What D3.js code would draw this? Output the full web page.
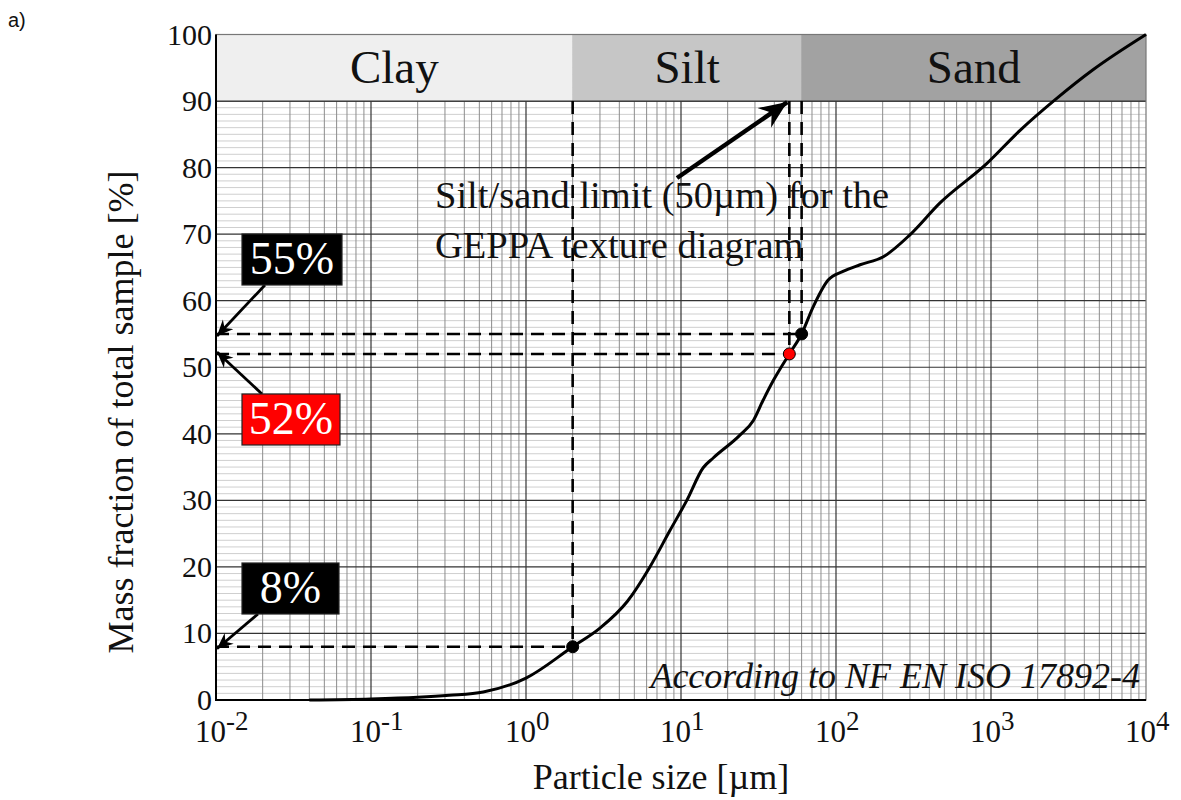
<!DOCTYPE html>
<html>
<head>
<meta charset="utf-8">
<script src="https://cdn.jsdelivr.net/npm/d3@7"></script>
<style>
  html, body { margin: 0; padding: 0; background: #fff; }
  svg { display: block; }
</style>
</head>
<body>
<svg id="chart" width="1181" height="800"></svg>
<script>
// Cumulative particle-size distribution (hydrometer + sieving)
const sizeUm  = [0.04, 0.1, 0.2, 0.32, 0.53, 1.0, 2.0, 3.0, 4.5, 6.3, 8.5, 10.9, 13.9, 16.2, 24, 29.3, 33.8, 39.4, 50, 60, 71, 89, 111, 143, 202, 300, 469, 938, 1540, 2655, 4550, 10000];
const massPct = [0, 0.15, 0.4, 0.7, 1.2, 3.3, 8, 10.8, 14.8, 20, 25.5, 30, 34.9, 36.4, 39.8, 42, 45, 48, 52, 55, 59, 63.1, 64.4, 65.4, 66.6, 69.9, 74.7, 80.6, 85.6, 90.4, 94.7, 100];

// Texture classes shown in the top band
const classNames = ["Clay", "Silt", "Sand"];
const classFrom  = [0.01, 2, 60];
const classTo    = [2, 60, 10000];
const classFill  = ["#efefef", "#c6c6c6", "#a2a2a2"];

// Marked points on the curve: size, percentage, label box colour
const markSize  = [2, 50, 60];
const markPct   = [8, 52, 55];
const markDot   = ["#000", "#ff0000", "#000"];
const labelText = ["8%", "52%", "55%"];
const labelFill = ["#000", "#ff0000", "#000"];

const xTickExp = [-2, -1, 0, 1, 2, 3, 4];
const yTicks   = [0, 10, 20, 30, 40, 50, 60, 70, 80, 90, 100];

const svg = d3.select("#chart");
const pL = 216, pR = 1146, pT = 34.5, pB = 700;
const serif = "'Liberation Serif', 'Times New Roman', serif";

const x = d3.scaleLog().domain([0.01, 10000]).range([pL, pR]);
const y = d3.scaleLinear().domain([0, 100]).range([pB, pT]);

// grid
const g = svg.append("g");
const minorX = [];
for (let e = -2; e < 4; e++) for (let k = 2; k <= 9; k++) minorX.push(k * Math.pow(10, e));
const minorY = d3.range(1, 100).filter(v => v % 10 !== 0);

g.selectAll("line.my").data(minorY).join("line")
  .attr("x1", pL).attr("x2", pR)
  .attr("y1", d => y(d)).attr("y2", d => y(d))
  .attr("stroke", "#cfcfcf").attr("stroke-width", 1);
g.selectAll("line.mx").data(minorX).join("line")
  .attr("x1", d => x(d)).attr("x2", d => x(d))
  .attr("y1", pT).attr("y2", pB)
  .attr("stroke", "#8c8c8c").attr("stroke-width", 1);
g.selectAll("line.My").data(yTicks.slice(1, -1)).join("line")
  .attr("x1", pL).attr("x2", pR)
  .attr("y1", d => y(d)).attr("y2", d => y(d))
  .attr("stroke", "#333").attr("stroke-width", 1.2);
g.selectAll("line.Mx").data(xTickExp.slice(1, -1)).join("line")
  .attr("x1", d => x(Math.pow(10, d))).attr("x2", d => x(Math.pow(10, d)))
  .attr("y1", pT).attr("y2", pB)
  .attr("stroke", "#333").attr("stroke-width", 1.2);

// class band (90–100 %)
const band = svg.append("g");
classNames.forEach((n, i) => {
  band.append("rect")
    .attr("x", x(classFrom[i])).attr("y", y(100))
    .attr("width", x(classTo[i]) - x(classFrom[i]))
    .attr("height", y(90) - y(100))
    .attr("fill", classFill[i]);
  band.append("text")
    .attr("x", (x(classFrom[i]) + x(classTo[i])) / 2)
    .attr("y", (y(100) + y(90)) / 2 + 15)
    .attr("text-anchor", "middle")
    .attr("font-family", serif).attr("font-size", 47)
    .attr("fill", "#111")
    .text(n);
});
band.append("line").attr("x1", pL).attr("x2", pR)
  .attr("y1", y(90)).attr("y2", y(90)).attr("stroke", "#333").attr("stroke-width", 1.2);

// frame
svg.append("rect").attr("x", pL).attr("y", pT)
  .attr("width", pR - pL).attr("height", pB - pT)
  .attr("fill", "none").attr("stroke", "#777").attr("stroke-width", 1.2);
svg.append("path")
  .attr("d", `M${pL},${pT}V${pB}H${pR}`)
  .attr("fill", "none").attr("stroke", "#000").attr("stroke-width", 2);

// arrow markers
const defs = svg.append("defs");
defs.append("marker").attr("id", "head").attr("viewBox", "-16 -8 18 16")
  .attr("refX", 0).attr("refY", 0).attr("markerWidth", 18).attr("markerHeight", 16)
  .attr("markerUnits", "userSpaceOnUse").attr("orient", "auto")
  .append("path").attr("d", "M0,0L-16,-7L-11,0L-16,7Z").attr("fill", "#000");
defs.append("marker").attr("id", "bighead").attr("viewBox", "-28 -13 30 26")
  .attr("refX", 0).attr("refY", 0).attr("markerWidth", 30).attr("markerHeight", 26)
  .attr("markerUnits", "userSpaceOnUse").attr("orient", "auto")
  .append("path").attr("d", "M0,0L-28,-12L-19,0L-28,12Z").attr("fill", "#000");

// dashed guide lines
const guides = svg.append("g").attr("stroke", "#000").attr("stroke-width", 2.6)
  .attr("stroke-dasharray", "13,8").attr("fill", "none");
markSize.forEach((s, i) => {
  guides.append("line").attr("x1", pL).attr("x2", x(s))
    .attr("y1", y(markPct[i])).attr("y2", y(markPct[i]));
  guides.append("line").attr("x1", x(s)).attr("x2", x(s))
    .attr("y1", y(90)).attr("y2", y(markPct[i]));
});

// curve
const line = d3.line().x(d => x(d[0])).y(d => y(d[1])).curve(d3.curveMonotoneX);
svg.append("path")
  .datum(sizeUm.map((s, i) => [s, massPct[i]]))
  .attr("d", line)
  .attr("fill", "none").attr("stroke", "#000").attr("stroke-width", 3);

// dots
markSize.forEach((s, i) => {
  svg.append("circle").attr("cx", x(s)).attr("cy", y(markPct[i])).attr("r", 6)
    .attr("fill", markDot[i]).attr("stroke", "#000").attr("stroke-width", 1);
});

// percentage boxes with arrows to the y axis
const boxTop = [563, 394, 234];
const boxW = [97, 98, 100];
labelText.forEach((t, i) => {
  const bx = 242, by = boxTop[i], bh = 51;
  const fromX = i === 0 ? 258 : (i === 1 ? 262 : 265);
  const fromY = i === 1 ? by : by + bh;
  svg.append("line").attr("x1", fromX).attr("y1", fromY)
    .attr("x2", pL + 1).attr("y2", y(markPct[i]) + (i === 1 ? -2 : 2))
    .attr("stroke", "#000").attr("stroke-width", 2.8)
    .attr("marker-end", "url(#head)");
  svg.append("rect").attr("x", bx).attr("y", by).attr("width", boxW[i]).attr("height", bh)
    .attr("fill", labelFill[i]).attr("stroke", "#222").attr("stroke-width", 1.2);
  svg.append("text").attr("x", bx + boxW[i] / 2).attr("y", by + 40)
    .attr("text-anchor", "middle").attr("font-family", serif).attr("font-size", 46)
    .attr("fill", "#fff").text(t);
});

// silt/sand annotation
svg.append("line").attr("x1", 677).attr("y1", 178).attr("x2", x(50) - 2).attr("y2", y(90) + 1)
  .attr("stroke", "#000").attr("stroke-width", 4.5).attr("marker-end", "url(#bighead)");
svg.append("text").attr("x", 435).attr("y", 208)
  .attr("font-family", serif).attr("font-size", 38.5).attr("fill", "#111")
  .text("Silt/sand limit (50µm) for the");
svg.append("text").attr("x", 435).attr("y", 258)
  .attr("font-family", serif).attr("font-size", 38.5).attr("fill", "#111")
  .text("GEPPA texture diagram");

svg.append("text").attr("x", 1140).attr("y", 688).attr("text-anchor", "end")
  .attr("font-family", serif).attr("font-style", "italic").attr("font-size", 36).attr("fill", "#111")
  .text("According to NF EN ISO 17892-4");

// y tick labels
svg.selectAll("text.yt").data(yTicks).join("text")
  .attr("x", 212).attr("y", d => y(d) + 10)
  .attr("text-anchor", "end").attr("font-family", serif).attr("font-size", 30)
  .attr("fill", "#111").text(d => d);

// x tick labels (powers of ten)
xTickExp.forEach(e => {
  const t = svg.append("text").attr("x", x(Math.pow(10, e)) - 21).attr("y", 742)
    .attr("font-family", serif).attr("font-size", 31).attr("fill", "#111");
  t.append("tspan").text("10");
  t.append("tspan").attr("dy", -12).attr("font-size", 27).text(String(e));
});

// axis titles
svg.append("text").attr("x", 661).attr("y", 789).attr("text-anchor", "middle")
  .attr("font-family", serif).attr("font-size", 36).attr("fill", "#111")
  .text("Particle size [µm]");
svg.append("text").attr("transform", "translate(133,412) rotate(-90)")
  .attr("text-anchor", "middle").attr("font-family", serif).attr("font-size", 36).attr("fill", "#111")
  .text("Mass fraction of total sample [%]");

svg.append("text").attr("x", 8).attr("y", 27)
  .attr("font-family", "'Liberation Sans', Arial, sans-serif").attr("font-size", 20).attr("fill", "#111")
  .text("a)");
</script>
</body>
</html>
